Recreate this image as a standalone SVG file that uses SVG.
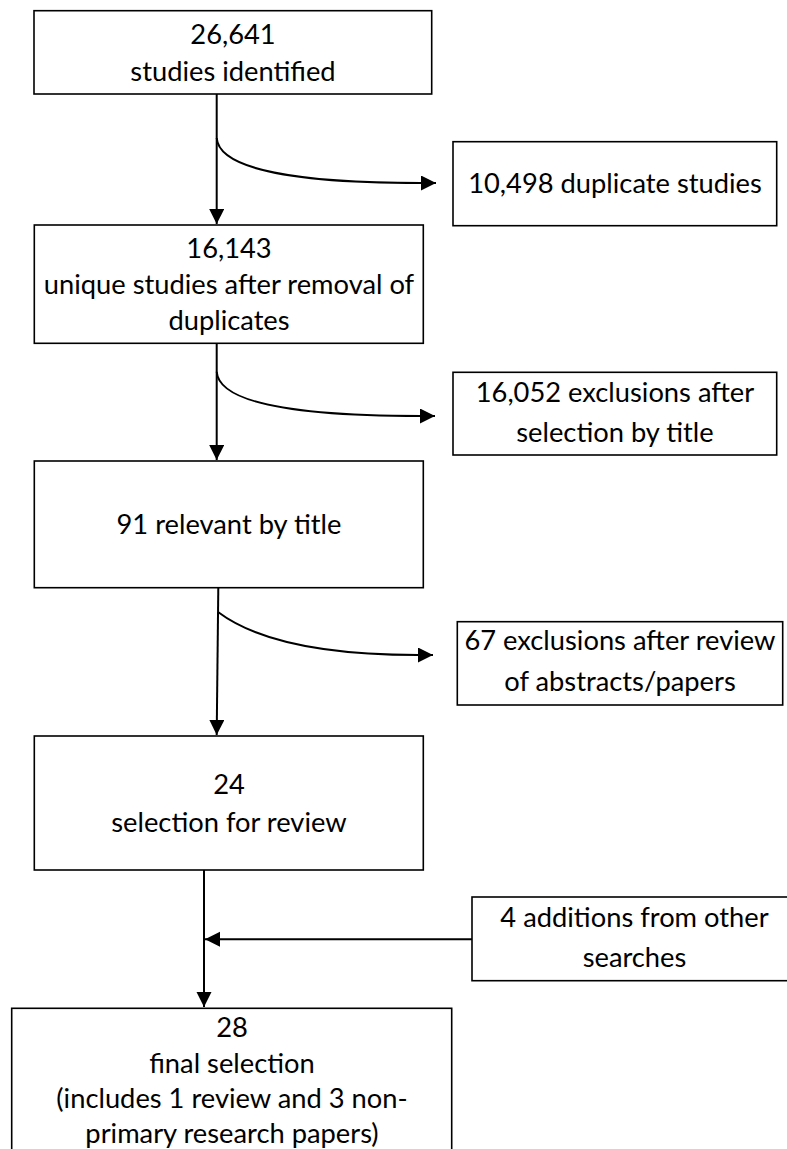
<svg xmlns="http://www.w3.org/2000/svg" width="787" height="1149" viewBox="0 0 787 1149">
<style>
.box{fill:#fff;stroke:#000;stroke-width:1.6}
.t{font-family:Lato,"Liberation Sans",sans-serif;font-size:27.3px;fill:#000;text-anchor:middle}
.c{fill:none;stroke:#000;stroke-width:2}
</style>
<defs>
<marker id="ah" markerUnits="userSpaceOnUse" markerWidth="16" markerHeight="16" refX="15" refY="7.5" orient="auto">
<path d="M0,0 L15,7.5 L0,15 Z" fill="#000"/>
</marker>
</defs>
<rect width="787" height="1149" fill="#fff"/>
<g id="connectors">
<path class="c" d="M216.7,94 L216.7,224" marker-end="url(#ah)"/>
<path class="c" d="M216.7,138 C219,170 300,183 421,183 L436,183" marker-end="url(#ah)"/>
<path class="c" d="M216.7,343 L216.7,460" marker-end="url(#ah)"/>
<path class="c" d="M216.7,371.7 C219,404 300,416 421,416 L435,416" marker-end="url(#ah)"/>
<path class="c" d="M218.3,588 L216.7,735" marker-end="url(#ah)"/>
<path class="c" d="M218,612 C250,636 310,655 418,655 L433,655" marker-end="url(#ah)"/>
<path class="c" d="M204,870 L204,1007" marker-end="url(#ah)"/>
<path class="c" d="M472,939.3 L205,939.3" marker-end="url(#ah)"/>
</g>
<g id="n1">
<rect class="box" x="34" y="10.7" width="397.7" height="83.3"/>
<text class="t" x="233" y="44">26,641</text>
<text class="t" x="233" y="80.7">studies identified</text>
</g>
<g id="n2">
<rect class="box" x="453" y="141.7" width="323.7" height="84"/>
<text class="t" x="615" y="193.3">10,498 duplicate studies</text>
</g>
<g id="n3">
<rect class="box" x="34.3" y="225" width="389" height="118.3"/>
<text class="t" x="229" y="258">16,143</text>
<text class="t" x="229" y="294">unique studies after removal of</text>
<text class="t" x="229" y="330">duplicates</text>
</g>
<g id="n4">
<rect class="box" x="453" y="372.3" width="323.7" height="82.7"/>
<text class="t" x="615" y="401.7">16,052 exclusions after</text>
<text class="t" x="615" y="441.7">selection by title</text>
</g>
<g id="n5">
<rect class="box" x="34.3" y="461" width="389" height="126.7"/>
<text class="t" x="229" y="534.3">91 relevant by title</text>
</g>
<g id="n6">
<rect class="box" x="457.3" y="621.7" width="325.4" height="83.3"/>
<text class="t" x="620" y="650">67 exclusions after review</text>
<text class="t" x="620" y="690.7">of abstracts/papers</text>
</g>
<g id="n7">
<rect class="box" x="34.3" y="736" width="389" height="134"/>
<text class="t" x="229" y="794.3">24</text>
<text class="t" x="229" y="831.7">selection for review</text>
</g>
<g id="n8">
<rect class="box" x="472" y="897" width="325" height="83.7"/>
<text class="t" x="634.5" y="926.7">4 additions from other</text>
<text class="t" x="634.5" y="967.3">searches</text>
</g>
<g id="n9">
<rect class="box" x="11.7" y="1008.3" width="440" height="160"/>
<text class="t" x="232" y="1037.3">28</text>
<text class="t" x="232" y="1072.7">final selection</text>
<text class="t" x="232" y="1108.3">(includes 1 review and 3 non-</text>
<text class="t" x="232" y="1143.3">primary research papers)</text>
</g>
</svg>
